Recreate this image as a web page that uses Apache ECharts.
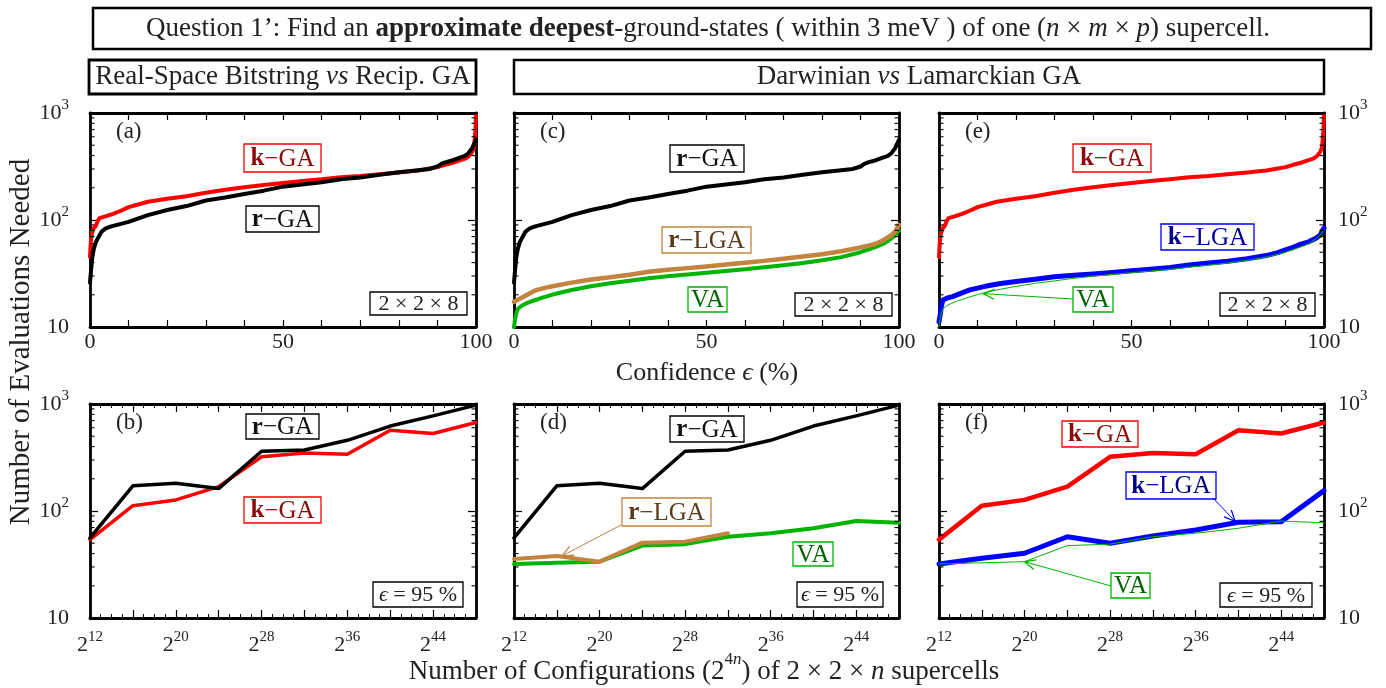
<!DOCTYPE html>
<html><head><meta charset="utf-8">
<script src="https://cdn.jsdelivr.net/npm/echarts@6/dist/echarts.min.js"></script>
<style>html,body{margin:0;padding:0;background:#fff}#c{width:1386px;height:688px}</style>
</head><body><div id="c"></div>
<script>
const FONT = "'Liberation Serif','Times New Roman',serif";
const COL = {red:'#ff0000', black:'#000000', brown:'#c4843f', green:'#00b400', blue:'#0000ff'};

// tick labels
const confLabels = [0, 50, 100];
const expLabels = [12, 20, 28, 36, 44];
const yMinor = [20,30,40,50,60,70,80,90,200,300,400,500,600,700,800,900];

// top row: evaluations needed vs confidence (%), 2x2x8 supercell
const kGA_cx = [0,0.2,0.5,1,1.5,2,2.5,4,6,8,10,12,15,20,25,30,35,40,45,50,55,60,65,70,75,80,85,88,90,92,94,96,97,98,99,99.5,99.8,100];
const kGA_cy = [45,62,75,84,88,98,104,108,114,122,132,138,148,158,167,180,192,202,212,222,232,240,251,258,268,278,290,303,312,328,343,362,372,390,430,480,650,938];
const rGA_cx = [0,0.3,0.6,1,1.5,2,3,4,5,6,8,10,12,15,20,25,30,35,40,45,50,55,60,65,70,75,80,85,88,89,90,91,92,94,96,97,98,99,99.5,100];
const rGA_cy = [26,35,45,54,62,67,78,83,86,88,92,96,102,111,124,135,152,162,175,188,205,215,225,240,250,265,280,292,300,308,316,335,345,362,385,395,420,470,515,560];
const rLGA_cx = [0,1,2,3.3,5,6,8,10,15,20,25,30,35,40,45,50,55,60,65,70,75,80,85,88,90,92,94,96,98,99,100];
const rLGA_cy = [17.2,18,18.8,19.9,21.5,22.2,23.2,24.0,26.0,27.8,29.2,30.8,32.9,34.3,35.5,36.8,38.3,39.8,41.5,43.4,45.5,47.8,51,53.5,55.5,57.5,60,65,72,78,90];
const VA_cx = [0,0.3,0.6,1,2,3,5,7,10,15,20,25,30,35,40,45,50,55,60,65,70,75,80,85,88,90,92,94,96,98,99,100];
const VA_cy = [10,12,13.5,14.8,15.8,16.5,17.6,18.6,20.1,22.2,24.0,25.6,27.0,28.5,29.8,31.0,32.2,33.3,34.6,36.2,37.8,39.6,42.0,45.0,47.8,50,53,56,60,67,72,80];
const kLGA_cx = [0,0.3,0.6,1,2,3.5,5,8,12,16,20,25,30,35,40,45,50,55,60,65,70,75,80,85,88,90,92,94,96,98,99,99.6,100];
const kLGA_cy = [11.2,13,15.5,17.9,18.6,19.2,20.2,22.2,24.0,25.5,26.6,28.0,29.5,30.4,31.3,32.3,33.5,34.7,36.0,38.0,39.6,41.2,43.5,46.5,49.5,52.5,55.5,59.5,62.5,68,72,80,84];

// bottom row: evaluations needed (eps = 95%) vs log2(number of configurations)
const cfgExp = [12,16,20,24,28,32,36,40,44,48];
const rGA_n = [56,172,182,162,362,372,458,622,775,975];
const kGA_n = [54,112,127,169,321,349,339,568,530,672];
const VA_n = [32,32.8,33.6,47.5,49,57.5,62,69,80.5,77.5];
const kLGA_n = [32,36.1,40.3,57.5,49.9,58.4,66.4,78.4,79.4,155];
const rLGA_exp = [12,16,20,24,28,32];
const rLGA_n = [35.6,37.9,33.6,50.6,51.7,61.9];

const pairs = (xs, ys) => xs.map((x, i) => [x, ys[i]]);

const panels = [
  {g:[90,113,386,214], row:0, lab:'(a)', yLab:'left', lines:[
    {d:pairs(kGA_cx,kGA_cy), c:COL.red, w:4},
    {d:pairs(rGA_cx,rGA_cy), c:COL.black, w:4}]},
  {g:[514,113,385,214], row:0, lab:'(c)', lines:[
    {d:pairs(rGA_cx,rGA_cy), c:COL.black, w:4},
    {d:pairs(VA_cx,VA_cy), c:COL.green, w:4},
    {d:pairs(rLGA_cx,rLGA_cy), c:COL.brown, w:4.5}]},
  {g:[939,113,385,214], row:0, lab:'(e)', yLab:'right', lines:[
    {d:pairs(kGA_cx,kGA_cy), c:COL.red, w:4},
    {d:pairs(kLGA_cx,kLGA_cy), c:COL.blue, w:5},
    {d:pairs(VA_cx,VA_cy), c:COL.green, w:1}]},
  {g:[90,404,386,214], row:1, lab:'(b)', yLab:'left', lines:[
    {d:pairs(cfgExp,kGA_n), c:COL.red, w:3.5},
    {d:pairs(cfgExp,rGA_n), c:COL.black, w:3.5}]},
  {g:[514,404,385,214], row:1, lab:'(d)', lines:[
    {d:pairs(cfgExp,rGA_n), c:COL.black, w:3.5},
    {d:pairs(cfgExp,VA_n), c:COL.green, w:4},
    {d:pairs(rLGA_exp,rLGA_n), c:COL.brown, w:4}]},
  {g:[939,404,385,214], row:1, lab:'(f)', yLab:'right', lines:[
    {d:pairs(cfgExp,kGA_n), c:COL.red, w:4.5},
    {d:pairs(cfgExp,kLGA_n), c:COL.blue, w:5},
    {d:pairs(cfgExp,VA_n), c:COL.green, w:1}]}
];

const supRich = {
  b:{fontSize:22, fontFamily:FONT, lineHeight:30, color:'#222'},
  s:{fontSize:15, fontFamily:FONT, lineHeight:14, verticalAlign:'top', color:'#222'}
};

function xAx(i, pos, row, showLabel) {
  const ax = {
    type:'value', gridIndex:i, position:pos,
    min: row ? 12 : 0, max: row ? 48 : 100, interval: row ? 4 : 10,
    axisLine:{show:true, onZero:false, lineStyle:{color:'#000', width:2.8}},
    axisTick:{show:true, inside:true, length: row ? 8 : 7, lineStyle:{color:'#000', width:1.2}},
    minorTick: row ? {show:true, splitNumber:4, length:4, lineStyle:{color:'#000', width:1}} : {show:false},
    splitLine:{show:false}, minorSplitLine:{show:false},
    axisLabel:{show:false}
  };
  if (showLabel) {
    ax.axisLabel = row ? {
      show:true, margin:12, formatter: v => expLabels.indexOf(v) >= 0 ? '{b|2}{s|' + v + '}' : '', rich: supRich
    } : {
      show:true, margin:4, fontSize:22, lineHeight:22, fontFamily:FONT, color:'#222',
      formatter: v => confLabels.indexOf(v) >= 0 ? String(v) : ''
    };
  }
  return ax;
}
function yAx(i, pos, showLabel) {
  return {
    type:'log', logBase:10, gridIndex:i, position:pos, min:10, max:1000,
    axisLine:{show:true, onZero:false, lineStyle:{color:'#000', width:2.8}},
    axisTick:{show:true, inside:true, length:8, lineStyle:{color:'#000', width:1.2}},
    splitLine:{show:false},
    axisLabel: showLabel ? {
      show:true, margin: pos === 'left' ? 21 : 14,
      formatter: v => { const e = Math.round(Math.log10(v)); return e === 1 ? '{b|10}' : '{b|10}{s|' + e + '}'; },
      rich: supRich
    } : {show:false}
  };
}

const grid = [], xAxis = [], yAxis = [], series = [];
panels.forEach((p, i) => {
  grid.push({left:p.g[0], top:p.g[1], width:p.g[2], height:p.g[3], outerBoundsMode:'none', containLabel:false});
  xAxis.push(xAx(i, 'bottom', p.row, true));
  xAxis.push(xAx(i, 'top', p.row, false));
  yAxis.push(yAx(i, 'left', p.yLab === 'left'));
  yAxis.push(yAx(i, 'right', p.yLab === 'right'));
  const xmin = p.row ? 12 : 0, xmax = p.row ? 48 : 100;
  series.push({
    type:'custom', xAxisIndex:2*i, yAxisIndex:2*i, silent:true, clip:false, z:5,
    data: yMinor.map(v => [xmin, v]),
    renderItem: (params, api) => {
      const v = api.value(1);
      const a = api.coord([xmin, v]), b = api.coord([xmax, v]);
      return {type:'group', children:[
        {type:'line', shape:{x1:a[0], y1:a[1], x2:a[0]+4.5, y2:a[1]}, style:{stroke:'#000', lineWidth:1.1}},
        {type:'line', shape:{x1:b[0], y1:b[1], x2:b[0]-4.5, y2:b[1]}, style:{stroke:'#000', lineWidth:1.1}}
      ]};
    }
  });
  p.lines.forEach(l => series.push({
    type:'line', xAxisIndex:2*i, yAxisIndex:2*i, data:l.d, showSymbol:false, symbol:'none',
    lineStyle:{color:l.c, width:l.w, join:'round', cap:'round'}, itemStyle:{color:l.c}, z:3, silent:true
  }));
});

const chart = echarts.init(document.getElementById('c'), null, {renderer:'canvas'});
chart.setOption({animation:false, backgroundColor:'#fff', grid, xAxis, yAxis, series});

// ---------- annotations ----------
const G = [];
function rect(x1, y1, x2, y2, stroke, lw) {
  G.push({type:'rect', z:100, shape:{x:x1, y:y1, width:x2-x1, height:y2-y1}, style:{fill:'#fff', stroke, lineWidth:lw}});
}
function text(x, y, txt, rich, extra) {
  G.push(Object.assign({type:'text', z:101, x, y, style:{text:txt, rich, fill:'#222', font:'22px ' + FONT,
    align:'center', verticalAlign:'middle', textAlign:'center', textVerticalAlign:'middle'}}, extra || {}));
}
function tokens(size, color) {
  return {
    n:{fontSize:size, fontFamily:FONT, fill:color},
    b:{fontSize:size, fontFamily:FONT, fill:color, fontWeight:'bold'},
    i:{fontSize:size, fontFamily:FONT, fill:color, fontStyle:'italic'},
    nb:{fontSize:size, fontFamily:FONT, fill:color, lineHeight:34, verticalAlign:'bottom'},
    s:{fontSize:17, fontFamily:FONT, fill:color, lineHeight:16, verticalAlign:'top'},
    si:{fontSize:17, fontFamily:FONT, fill:color, lineHeight:16, verticalAlign:'top', fontStyle:'italic'}
  };
}
function box(b, stroke, txt, color, size) {
  rect(b[0], b[1], b[2], b[3], stroke, 1.3);
  text((b[0]+b[2])/2, (b[1]+b[3])/2 + 1, txt, tokens(size || 25, color));
}
function arrow(x1, y1, tip, color) {
  const x2 = tip[0], y2 = tip[1];
  const dx = x2 - x1, dy = y2 - y1, L = Math.hypot(dx, dy), ux = dx/L, uy = dy/L;
  const hl = 11, hw = 5, bx = x2 - ux*hl, by = y2 - uy*hl;
  G.push({type:'line', z:100, shape:{x1, y1, x2, y2}, style:{stroke:color, lineWidth:1}});
  G.push({type:'polyline', z:100, shape:{points:[[bx - uy*hw, by + ux*hw], [x2, y2], [bx + uy*hw, by - ux*hw]]},
    style:{stroke:color, lineWidth:1.3, fill:'none'}});
}
const tip = (i, pt) => chart.convertToPixel({xAxisIndex:2*i, yAxisIndex:2*i}, pt);

// title + headers
rect(93, 8, 1371, 49, '#000', 2.5);
text(708, 29, '{n|Question 1’: Find an }{b|approximate deepest}{n|-ground-states ( within 3 meV ) of one (}{i|n}{n| × }{i|m}{n| × }{i|p}{n|) supercell.}', tokens(27, '#222'));
rect(89, 60, 476, 94, '#000', 2.8);
text(283, 77, '{n|Real-Space Bitstring }{i|vs}{n| Recip. GA}', tokens(27, '#222'));
rect(514, 60, 1324, 94, '#000', 2.5);
text(919, 77, '{n|Darwinian }{i|vs}{n| Lamarckian GA}', tokens(27, '#222'));

// axis titles
text(21, 342, '', null, {rotation:Math.PI/2, style:{text:'Number of Evaluations Needed', fill:'#222', font:'29px ' + FONT, align:'center', verticalAlign:'middle', textAlign:'center', textVerticalAlign:'middle'}});
text(707, 373, '{n|Confidence }{i|ϵ}{n| (%)}', tokens(26, '#222'));
text(704, 668, '{nb|Number of Configurations (2}{s|4}{si|n}{nb|) of 2 × 2 × }{nbi|n}{nb| supercells}',
  Object.assign(tokens(27, '#222'), {nbi:{fontSize:27, fontFamily:FONT, fill:'#222', fontStyle:'italic', lineHeight:34, verticalAlign:'bottom'}}));

// panel letters
panels.forEach(p => text(p.g[0] + 26, p.g[1] + 19, '', null, {style:{text:p.lab, fill:'#222', font:'23px ' + FONT, align:'left', verticalAlign:'middle', textAlign:'left', textVerticalAlign:'middle'}}));

const DR = '#8b0a0a', DB = '#00008b', DG = '#006400', DBR = '#5c3a1a';
const kGAt = '{b|k}{n|−GA}', rGAt = '{b|r}{n|−GA}', rLGAt = '{b|r}{n|−LGA}', kLGAt = '{b|k}{n|−LGA}', VAt = '{n|VA}';
const dimT = '{n|2 × 2 × 8}', epsT = '{i|ϵ}{n| = 95 %}';
// (a)
box([244,144,321,172], COL.red, kGAt, DR);
box([246,206,319,232], '#000', rGAt, '#111');
box([370,292,467,315], '#000', dimT, '#222', 22);
// (c)
box([670,145,744,172], '#000', rGAt, '#111');
box([662,227,751,253], COL.brown, rLGAt, DBR);
box([688,287,727,312], COL.green, VAt, DG);
box([795,293,892,316], '#000', dimT, '#222', 22);
// (e)
box([1073,144,1151,172], COL.red, kGAt, DR);
box([1161,224,1254,250], COL.blue, kLGAt, DB);
box([1073,287,1113,312], COL.green, VAt, DG);
box([1220,293,1315,316], '#000', dimT, '#222', 22);
arrow(1073, 299, tip(2, [11.5, 20.5]), COL.green);
// (b)
box([246,414,319,439], '#000', rGAt, '#111');
box([244,497,321,523], COL.red, kGAt, DR);
box([373,582,463,607], '#000', epsT, '#222', 22);
// (d)
box([670,416,744,442], '#000', rGAt, '#111');
box([622,498,711,526], COL.brown, rLGAt, DBR);
box([793,542,833,566], COL.green, VAt, DG);
box([797,582,883,607], '#000', epsT, '#222', 22);
arrow(621, 525, tip(4, [16.5, 38]), COL.brown);
// (f)
box([1062,421,1138,447], COL.red, kGAt, DR);
box([1126,472,1216,499], COL.blue, kLGAt, DB);
box([1111,573,1150,598], COL.green, VAt, DG);
box([1220,583,1312,607], '#000', epsT, '#222', 22);
arrow(1213, 498, tip(5, [39.7, 80]), COL.blue);
arrow(1111, 586, tip(5, [20, 33.6]), COL.green);

chart.setOption({graphic:{elements:G}});
</script></body></html>
